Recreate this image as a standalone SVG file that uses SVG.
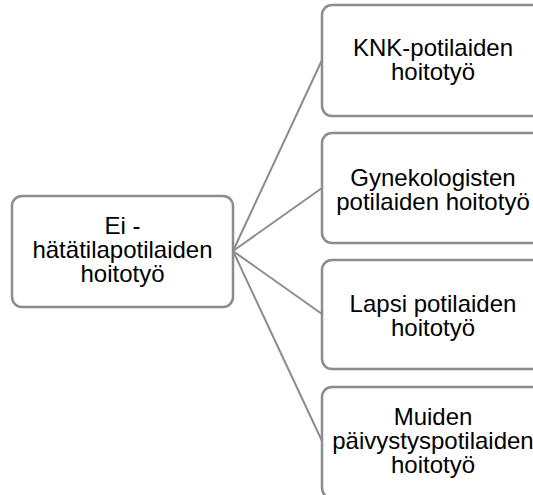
<svg xmlns="http://www.w3.org/2000/svg" width="533" height="495" viewBox="0 0 533 495">
  <style>
    .box { fill: #ffffff; stroke: #8c8c8c; stroke-width: 2.5; }
    .lbl { font-family: "Liberation Sans", Arial, sans-serif; font-size: 24px; fill: #000000; text-anchor: middle; }
    .link { stroke: #8c8c8c; stroke-width: 2; fill: none; }
  </style>
  <rect width="533" height="495" fill="#ffffff"/>
  <g id="connectors">
    <line class="link" x1="233" y1="251" x2="322" y2="60"/>
    <line class="link" x1="233" y1="251" x2="322" y2="188"/>
    <line class="link" x1="233" y1="251" x2="322" y2="314"/>
    <line class="link" x1="233" y1="251" x2="322" y2="441"/>
  </g>
  <g id="root">
    <rect class="box" x="12" y="196" width="221" height="111" rx="10"/>
    <text class="lbl" x="122.5" y="234">Ei -</text>
    <text class="lbl" x="122.5" y="258">hätätilapotilaiden</text>
    <text class="lbl" x="122.5" y="282">hoitotyö</text>
  </g>
  <g id="knk">
    <rect class="box" x="322" y="5" width="222" height="111" rx="10"/>
    <text class="lbl" x="433" y="56">KNK-potilaiden</text>
    <text class="lbl" x="433" y="80">hoitotyö</text>
  </g>
  <g id="gyn">
    <rect class="box" x="322" y="133" width="222" height="110" rx="10"/>
    <text class="lbl" x="433" y="186">Gynekologisten</text>
    <text class="lbl" x="433" y="210">potilaiden hoitotyö</text>
  </g>
  <g id="lapsi">
    <rect class="box" x="322" y="260" width="222" height="109" rx="10"/>
    <text class="lbl" x="433" y="312">Lapsi potilaiden</text>
    <text class="lbl" x="433" y="336">hoitotyö</text>
  </g>
  <g id="muut">
    <rect class="box" x="322" y="387" width="222" height="111" rx="10"/>
    <text class="lbl" x="433" y="425">Muiden</text>
    <text class="lbl" x="433" y="449">päivystyspotilaiden</text>
    <text class="lbl" x="433" y="473">hoitotyö</text>
  </g>
</svg>
